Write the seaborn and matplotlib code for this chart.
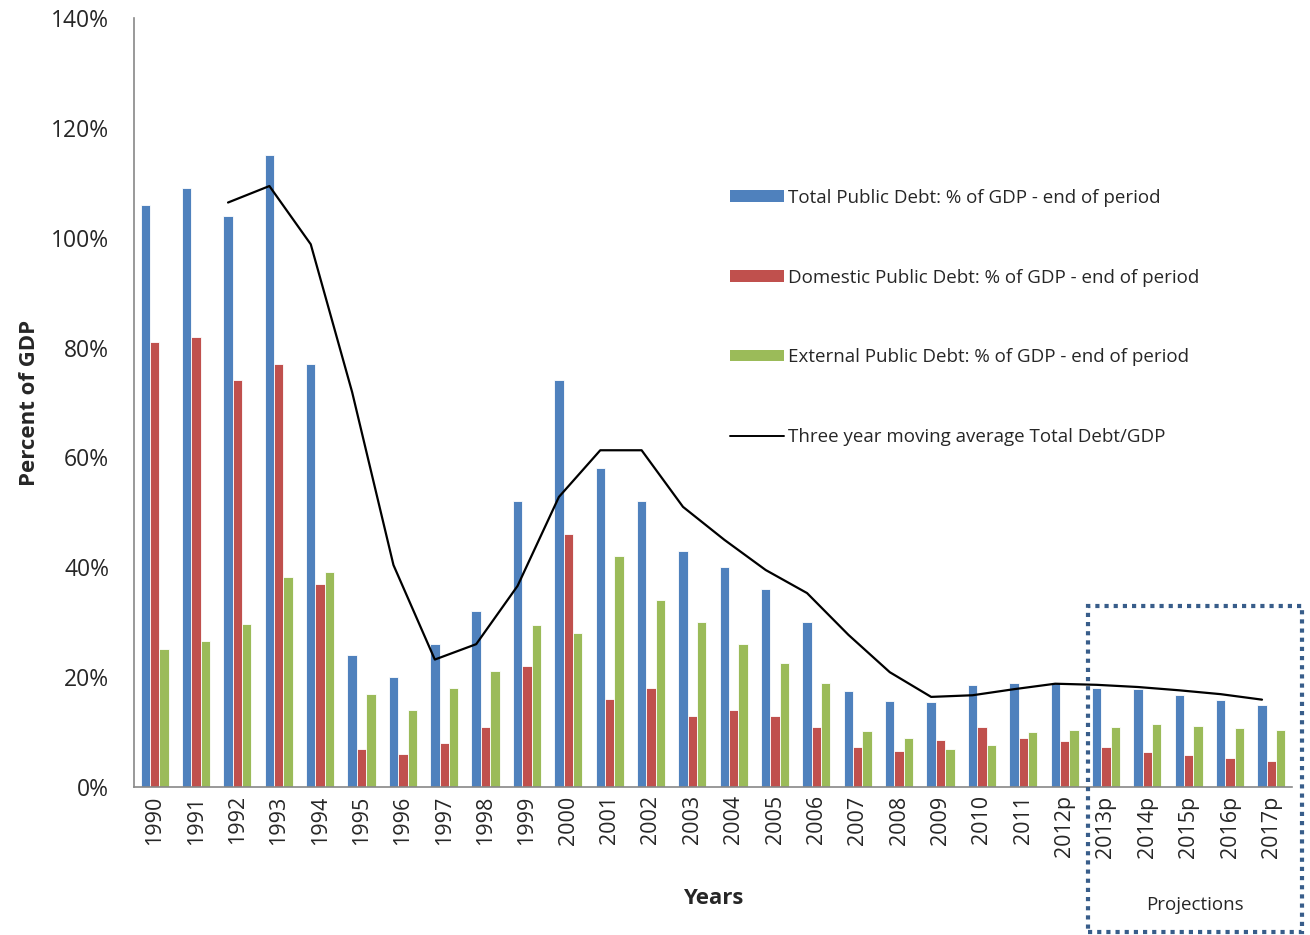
"""
Dette publique en % du PIB, 1990-2017p
"""
import numpy as np
import pandas as pd
import matplotlib
matplotlib.use('Agg')
import matplotlib.pyplot as plt
import seaborn as sns
from matplotlib.patches import Rectangle, Patch
from matplotlib.lines import Line2D

years = ['1990', '1991', '1992', '1993', '1994', '1995', '1996', '1997', '1998', '1999',
         '2000', '2001', '2002', '2003', '2004', '2005', '2006', '2007', '2008', '2009',
         '2010', '2011', '2012p', '2013p', '2014p', '2015p', '2016p', '2017p']

total_debt = [106, 109, 104, 115, 77, 24, 20, 26, 32, 52,
              74, 58, 52, 43, 40, 36, 30, 17.5, 15.6, 15.5,
              18.5, 19, 19, 18, 17.8, 16.8, 15.8, 15]
domestic_debt = [81, 82, 74, 77, 37, 7, 6, 8, 11, 22,
                 46, 16, 18, 13, 14, 13, 11, 7.3, 6.6, 8.6,
                 10.9, 9, 8.3, 7.2, 6.4, 5.8, 5.2, 4.7]
external_debt = [25.2, 26.5, 29.7, 38.3, 39.1, 17, 14.1, 18, 21.2, 29.5,
                 28.1, 42, 34, 30.1, 26, 22.6, 19, 10.2, 9, 7,
                 7.6, 10.1, 10.4, 10.9, 11.4, 11.1, 10.7, 10.3]
moving_avg = [np.nan, np.nan, 106.4, 109.4, 98.8, 71.9, 40.4, 23.2, 26, 36.6,
              52.8, 61.3, 61.3, 51, 45, 39.5, 35.3, 27.7, 20.9, 16.4,
              16.7, 17.8, 18.8, 18.6, 18.2, 17.6, 16.9, 15.9]

series_names = ['Total Public Debt: % of GDP - end of period',
                'Domestic Public Debt: % of GDP - end of period',
                'External Public Debt: % of GDP - end of period']
line_name = 'Three year moving average Total Debt/GDP'
colors = ['#4F81BD', '#C0504D', '#9BBB59']

sns.set_style('white')
plt.rcParams['font.family'] = ['Open Sans', 'DejaVu Sans']

# Tableau long pour seaborn
df = pd.DataFrame({
    'year': years * 3,
    'value': total_debt + domestic_debt + external_debt,
    'series': [s for s in series_names for _ in years],
})

fig = plt.figure(figsize=(13.1, 9.35), dpi=100)
ax = fig.add_axes([0.1023, 0.1583, 0.884, 0.8225])

sns.barplot(data=df, x='year', y='value', hue='series', hue_order=series_names,
            palette=colors, saturation=1, width=0.68, ax=ax, legend=False,
            edgecolor='white', linewidth=0.6)

# Moyenne mobile alignee sur les barres bleues
blue_x = [p.get_x() + p.get_width() / 2 for p in ax.containers[0].patches]
ax.plot(blue_x, moving_avg, color='black', linewidth=1.6)

ax.set_xlim(-0.5, len(years) - 0.5)
ax.set_ylim(0, 140)
ax.set_yticks(range(0, 141, 20))
ax.set_yticklabels([f'{v}%' for v in range(0, 141, 20)], fontsize=16.5)
ax.set_xticks(range(len(years)))
ax.set_xticklabels(years, rotation=90, fontsize=15.5)
ax.set_xticks(np.arange(-0.5, len(years), 1), minor=True)
ax.tick_params(axis='x', which='major', length=0, pad=6)
ax.tick_params(axis='x', which='minor', length=6, color='#888888', width=1.2)
ax.tick_params(axis='y', length=6, color='#888888', width=1.2, pad=12)

for side in ['top', 'right']:
    ax.spines[side].set_visible(False)
for side in ['left', 'bottom']:
    ax.spines[side].set_color('#888888')
    ax.spines[side].set_linewidth(1.2)

ax.set_xlabel('Years', fontsize=16, fontweight='bold', labelpad=22)
ax.set_ylabel('Percent of GDP', fontsize=16, fontweight='bold', labelpad=8)

handles = [Patch(facecolor=c, edgecolor='none') for c in colors]
handles.append(Line2D([0], [0], color='black', linewidth=1.4))
ax.legend(handles, series_names + [line_name], loc='upper left',
          bbox_to_anchor=(0.5, 0.8), frameon=False, fontsize=13.5,
          handlelength=2.9, handleheight=0.55, handletextpad=0.2,
          labelspacing=3.3)

# Cadre des projections
fig.patches.append(Rectangle((1088 / 1310, 3 / 935), 214 / 1310, 326 / 935,
                             transform=fig.transFigure, fill=False,
                             edgecolor='#385D8A', linewidth=3,
                             linestyle=(0, (1, 1.2))))
fig.text(1195 / 1310, 1 - 905 / 935, 'Projections', ha='center', va='center',
         fontsize=13.5)

plt.savefig('out.png', dpi=100)
plt.close()
